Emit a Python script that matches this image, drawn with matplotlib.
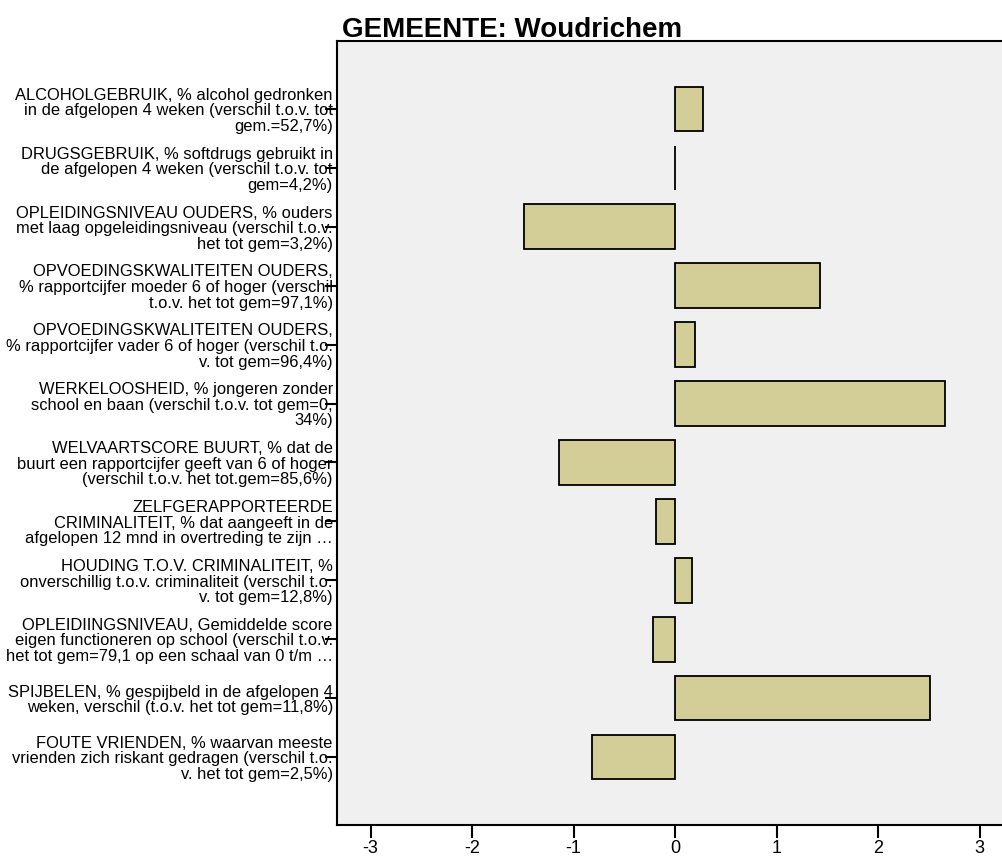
import matplotlib
matplotlib.use("Agg")
import matplotlib.pyplot as plt

plt.rcParams['font.family'] = ['Liberation Sans', 'DejaVu Sans']

categories = [
    "ALCOHOLGEBRUIK, % alcohol gedronken\nin de afgelopen 4 weken (verschil t.o.v. tot\ngem.=52,7%)",
    "DRUGSGEBRUIK, % softdrugs gebruikt in\nde afgelopen 4 weken (verschil t.o.v. tot\ngem=4,2%)",
    "OPLEIDINGSNIVEAU OUDERS, % ouders\nmet laag opgeleidingsniveau (verschil t.o.v.\nhet tot gem=3,2%)",
    "OPVOEDINGSKWALITEITEN OUDERS,\n% rapportcijfer moeder 6 of hoger (verschil\nt.o.v. het tot gem=97,1%)",
    "OPVOEDINGSKWALITEITEN OUDERS,\n% rapportcijfer vader 6 of hoger (verschil t.o.\nv. tot gem=96,4%)",
    "WERKELOOSHEID, % jongeren zonder\nschool en baan (verschil t.o.v. tot gem=0,\n34%)",
    "WELVAARTSCORE BUURT, % dat de\nbuurt een rapportcijfer geeft van 6 of hoger\n(verschil t.o.v. het tot.gem=85,6%)",
    "ZELFGERAPPORTEERDE\nCRIMINALITEIT, % dat aangeeft in de\nafgelopen 12 mnd in overtreding te zijn \u2026",
    "HOUDING T.O.V. CRIMINALITEIT, %\nonverschillig t.o.v. criminaliteit (verschil t.o.\nv. tot gem=12,8%)",
    "OPLEIDIINGSNIVEAU, Gemiddelde score\neigen functioneren op school (verschil t.o.v.\nhet tot gem=79,1 op een schaal van 0 t/m \u2026",
    "SPIJBELEN, % gespijbeld in de afgelopen 4\nweken, verschil (t.o.v. het tot gem=11,8%)",
    "FOUTE VRIENDEN, % waarvan meeste\nvrienden zich riskant gedragen (verschil t.o.\nv. het tot gem=2,5%)",
]
values = [0.28, 0.0, -1.49, 1.43, 0.20, 2.66, -1.14, -0.19, 0.17, -0.22, 2.51, -0.82]
xticks = [-3, -2, -1, 0, 1, 2, 3]
title = "GEMEENTE: Woudrichem"

fig = plt.figure(figsize=(10.02, 8.6), dpi=100)
ax = fig.add_axes([337 / 1002, 1 - 825 / 860, 1 - 337 / 1002 + 0.003, (825 - 41) / 860])
ax.set_facecolor('#F0F0F0')

ypos = list(range(len(categories)))
ax.barh(ypos, values, height=0.76, color='#D3CE97', edgecolor='black', linewidth=1.3)

ax.set_xlim(-3.33, 3.25)
ax.set_ylim(len(categories) - 1 + 1.155, -1.155)
ax.set_yticks(ypos)
ax.set_yticklabels(categories, fontsize=11.9, linespacing=1.05)
ax.set_xticks(xticks)
ax.set_xticklabels([str(t) for t in xticks], fontsize=13)

ax.tick_params(axis='y', direction='out', length=9, width=1.5, pad=-6)
ax.tick_params(axis='x', direction='out', length=9, width=1.5, pad=2)

for side in ['left', 'top', 'bottom']:
    ax.spines[side].set_linewidth(1.5)
    ax.spines[side].set_color('black')
ax.spines['right'].set_visible(False)

fig.text(342 / 1002, 1 - 30 / 860, title, fontsize=20, fontweight='bold', ha='left', va='center')

fig.savefig('out.png', dpi=100, facecolor='white')
